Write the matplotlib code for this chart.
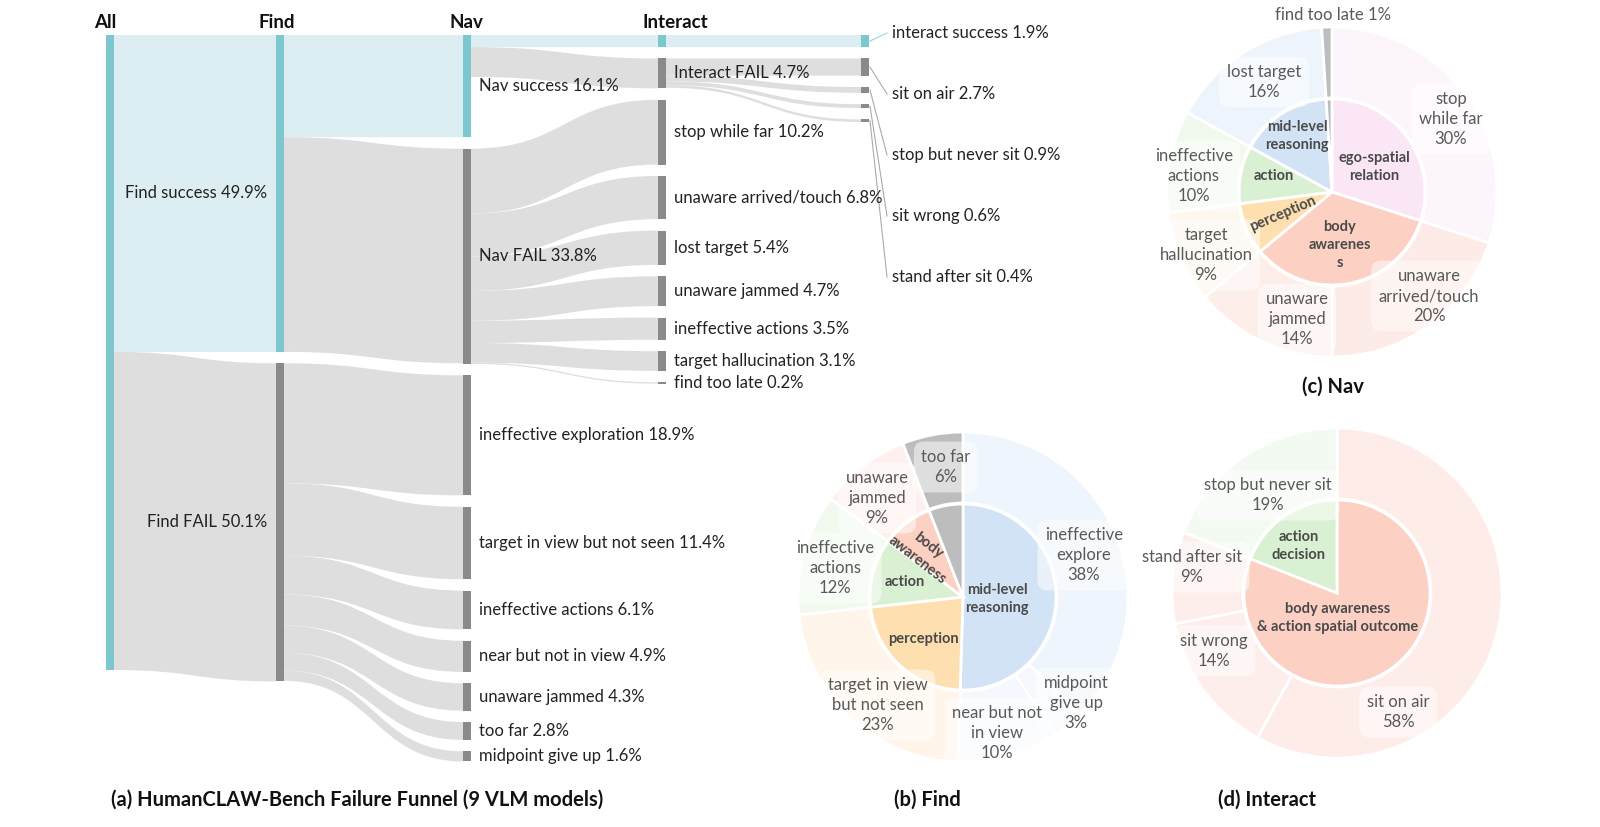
import numpy as np
import matplotlib.pyplot as plt
from matplotlib.path import Path
from matplotlib.patches import PathPatch, Rectangle

plt.rcParams['font.family'] = ['Lato', 'DejaVu Sans']

# ========== Sankey data (percent of all episodes) ==========
node_names = ['All',
              'Find success', 'Find FAIL',
              'Nav success', 'Nav FAIL', 'ineffective exploration',
              'target in view but not seen', 'ineffective actions',
              'near but not in view', 'unaware jammed', 'too far', 'midpoint give up',
              '', 'Interact FAIL', 'stop while far', 'unaware arrived/touch', 'lost target',
              'unaware jammed', 'ineffective actions', 'target hallucination', 'find too late',
              'interact success', 'sit on air', 'stop but never sit', 'sit wrong', 'stand after sit']
node_stage = [0, 1, 1, 2, 2, 2, 2, 2, 2, 2, 2, 2, 3, 3, 3, 3, 3, 3, 3, 3, 3, 4, 4, 4, 4, 4]
success_nodes = [0, 1, 3, 12, 21]

link_source = [0, 0, 1, 1, 2, 2, 2, 2, 2, 2, 2, 3, 3, 4, 4, 4, 4, 4, 4, 4, 12, 13, 13, 13, 13]
link_target = [1, 2, 3, 4, 5, 6, 7, 8, 9, 10, 11, 12, 13, 14, 15, 16, 17, 18, 19, 20, 21, 22, 23, 24, 25]
link_value = [49.9, 50.1, 16.1, 33.8, 18.9, 11.4, 6.1, 4.9, 4.3, 2.8, 1.6,
              1.9, 4.7, 10.2, 6.8, 5.4, 4.7, 3.5, 3.1, 0.2, 1.9, 2.7, 0.9, 0.6, 0.4]
stage_titles = ['All', 'Find', 'Nav', 'Interact']

# ========== Donut data ==========
find_outer_names = ['ineffective\nexplore', 'midpoint\ngive up', 'near but not\nin view',
                    'target in view\nbut not seen', 'ineffective\nactions', 'unaware\njammed', 'too far']
find_outer_pct = [38, 3, 10, 23, 12, 9, 6]
find_inner_names = ['mid-level\nreasoning', 'perception', 'action', 'body\nawareness', '']
find_inner_pct = [51, 23, 12, 9, 6]

nav_outer_names = ['stop\nwhile far', 'unaware\narrived/touch', 'unaware\njammed',
                   'target\nhallucination', 'ineffective\nactions', 'lost target', 'find too late']
nav_outer_pct = [30, 20, 14, 9, 10, 16, 1]
nav_inner_names = ['ego-spatial\nrelation', 'body\nawarenes\ns', 'perception', 'action',
                   'mid-level\nreasoning', '']
nav_inner_pct = [30, 34, 9, 10, 16, 1]

interact_outer_names = ['sit on air', 'sit wrong', 'stand after sit', 'stop but never sit']
interact_outer_pct = [58, 14, 9, 19]
interact_inner_names = ['body awareness\n& action spatial outcome', 'action\ndecision']
interact_inner_pct = [81, 19]

# ========== colours ==========
TEAL_NODE, TEAL_LINK = '#7DC7CF', '#DCEEF1'
GRAY_NODE, GRAY_LINK = '#8A8A8A', '#DEDEDE'
C_BLUE, C_PINK, C_SALMON = '#D3E3F6', '#FBE6F6', '#FCD0C3'
C_ORANGE, C_GREEN, C_GRAY = '#FEE0B0', '#D9F0D2', '#BDBDBD'

# ========== layout (pixels) ==========
W, H = 1600, 827
PX_PER_PCT = 6.35
TOP_PX = 35
PAD = 1.8
NODE_W = 8
stage_x = [106, 276, 463, 658, 861]
header_x = [105, 277, 466, 675]
LABEL_FS = 12


def py(ypx):
    """pixel row -> sankey percent coordinate"""
    return (ypx - TOP_PX) / PX_PER_PCT


fig = plt.figure(figsize=(W / 100, H / 100), dpi=100)
ax = fig.add_axes([0, 0, 1, 1])
ax.set_xlim(0, W)
ax.set_ylim(py(H), py(0))
ax.axis('off')

# ---- node sizes and stacking ----
n = len(node_names)
inflow = np.zeros(n)
outflow = np.zeros(n)
for s, t, v in zip(link_source, link_target, link_value):
    outflow[s] += v
    inflow[t] += v
size = np.maximum(inflow, outflow)
top = np.zeros(n)
for st in range(len(stage_x)):
    y = 0.0
    for i in range(n):
        if node_stage[i] == st:
            top[i] = y
            y += size[i] + PAD

# ---- links (cubic bands) ----
out_cur = top.copy()
in_cur = top.copy()
for s, t, v in zip(link_source, link_target, link_value):
    x0 = stage_x[node_stage[s]] + NODE_W
    x1 = stage_x[node_stage[t]]
    xm = (x0 + x1) / 2
    y0, y1 = out_cur[s], in_cur[t]
    out_cur[s] += v
    in_cur[t] += v
    verts = [(x0, y0), (xm, y0), (xm, y1), (x1, y1),
             (x1, y1 + v), (xm, y1 + v), (xm, y0 + v), (x0, y0 + v), (x0, y0)]
    codes = [Path.MOVETO, Path.CURVE4, Path.CURVE4, Path.CURVE4,
             Path.LINETO, Path.CURVE4, Path.CURVE4, Path.CURVE4, Path.CLOSEPOLY]
    col = TEAL_LINK if t in success_nodes else GRAY_LINK
    ax.add_patch(PathPatch(Path(verts, codes), fc=col, ec='none', lw=0, zorder=1))

# ---- nodes and labels ----
last_idx = 0
for i in range(n):
    st = node_stage[i]
    col = TEAL_NODE if i in success_nodes else GRAY_NODE
    ax.add_patch(Rectangle((stage_x[st], top[i]), NODE_W, size[i], fc=col, ec='none', zorder=2))
    if st == 0 or node_names[i] == '':
        continue
    text = f"{node_names[i]} {inflow[i]:.1f}%"
    yc = top[i] + size[i] / 2
    if st == 1:
        ax.text(stage_x[st] - 9, yc, text, ha='right', va='center', fontsize=LABEL_FS, color='#222222')
    elif st in (2, 3):
        ax.text(stage_x[st] + NODE_W + 8, yc, text, ha='left', va='center', fontsize=LABEL_FS,
                color='#222222')
    else:
        # last column: labels spread out with leader lines
        ty = py(33 + 61 * last_idx)
        last_idx += 1
        lc = '#9AD3DA' if i in success_nodes else '#AAAAAA'
        ax.plot([stage_x[st] + NODE_W + 1, 887], [yc, ty], color=lc, lw=0.8, zorder=1)
        ax.text(892, ty, text, ha='left', va='center', fontsize=LABEL_FS, color='#222222')

for hx, title in zip(header_x, stage_titles):
    ax.text(hx, py(23), title, ha='center', va='center', fontsize=13.5, fontweight='bold',
            color='#111111')

ax.text(357, py(800), '(a) HumanCLAW-Bench Failure Funnel (9 VLM models)', ha='center',
        va='center', fontsize=14.5, fontweight='bold', color='#111111')

# ========== donuts ==========
R_OUT, R_RING, R_IN = 165, 94, 93
HALF = 200
BOX = dict(boxstyle='round,pad=0.45,rounding_size=0.6', fc='white', ec='none', alpha=0.5)


def draw_donut(cx, cy, outer_pct, outer_names, outer_colors, outer_xy,
               inner_pct, inner_names, inner_colors, inner_xy, inner_rot, title, title_xy):
    pax = fig.add_axes([(cx - HALF) / W, 1 - (cy + HALF) / H, 2 * HALF / W, 2 * HALF / H])
    pax.pie(outer_pct, radius=R_OUT, startangle=90, counterclock=False, colors=outer_colors,
            wedgeprops=dict(width=R_OUT - R_RING, edgecolor='white', linewidth=2.0))
    pax.pie(inner_pct, radius=R_IN, startangle=90, counterclock=False, colors=inner_colors,
            wedgeprops=dict(edgecolor='white', linewidth=2.0))
    pax.set_xlim(-HALF, HALF)
    pax.set_ylim(-HALF, HALF)
    pax.axis('off')
    for name, p, (dx, dy) in zip(outer_names, outer_pct, outer_xy):
        if np.hypot(dx, dy) > R_OUT:
            pax.text(dx, -dy, f"{name} {p}%", ha='center', va='center', fontsize=12,
                     color='#595959', clip_on=False)
        else:
            pax.text(dx, -dy, f"{name}\n{p}%", ha='center', va='center', fontsize=12,
                     color='#595959', linespacing=1.3, bbox=BOX)
    for name, xy, rot in zip(inner_names, inner_xy, inner_rot):
        if name:
            pax.text(xy[0], -xy[1], name, ha='center', va='center', fontsize=10.5,
                     fontweight='bold', color='#4A4A4A', rotation=rot, linespacing=1.4,
                     rotation_mode='anchor')
    pax.text(title_xy[0], -title_xy[1], title, ha='center', va='center', fontsize=14.5,
             fontweight='bold', color='#111111', clip_on=False)


# (b) Find
draw_donut(963, 597, find_outer_pct, find_outer_names,
           ['#EEF5FC', '#F5F9FE', '#F5F9FE', '#FFF5EA', '#F2FAEF', '#FEF0EE', C_GRAY],
           [(121, -42), (113, 106), (34, 136), (-85, 108), (-128, -29), (-86, -99), (-17, -130)],
           find_inner_pct, find_inner_names, [C_BLUE, C_ORANGE, C_GREEN, C_SALMON, C_GRAY],
           [(34, 2), (-40, 42), (-58, -15), (-40, -44), (0, 0)], [0, 0, 0, -38, 0],
           '(b) Find', (-36, 203))

# (c) Nav
draw_donut(1332, 192, nav_outer_pct, nav_outer_names,
           ['#FDF5FC', '#FDEBE7', '#FDEEEA', '#FEF7EE', '#F1F9EE', '#EEF4FC', C_GRAY],
           [(119, -73), (97, 104), (-35, 127), (-126, 63), (-138, -16), (-68, -110), (1, -177)],
           nav_inner_pct, nav_inner_names, [C_PINK, C_SALMON, C_ORANGE, C_GREEN, C_BLUE, C_GRAY],
           [(42, -25), (8, 53), (-49, 22), (-58, -16), (-35, -56), (0, 0)], [0, 0, 23, 0, 0, 0],
           '(c) Nav', (1, 195))

# (d) Interact
draw_donut(1337, 593, interact_outer_pct, interact_outer_names,
           ['#FEECE9', '#FEEEEB', '#FEEEEB', '#F3FAF1'],
           [(61, 119), (-123, 58), (-145, -26), (-69, -98)],
           interact_inner_pct, interact_inner_names, [C_SALMON, C_GREEN],
           [(1, 25), (-38, -47)], [0, 0],
           '(d) Interact', (-70, 207))

fig.savefig('out.png', dpi=100, facecolor='white')
